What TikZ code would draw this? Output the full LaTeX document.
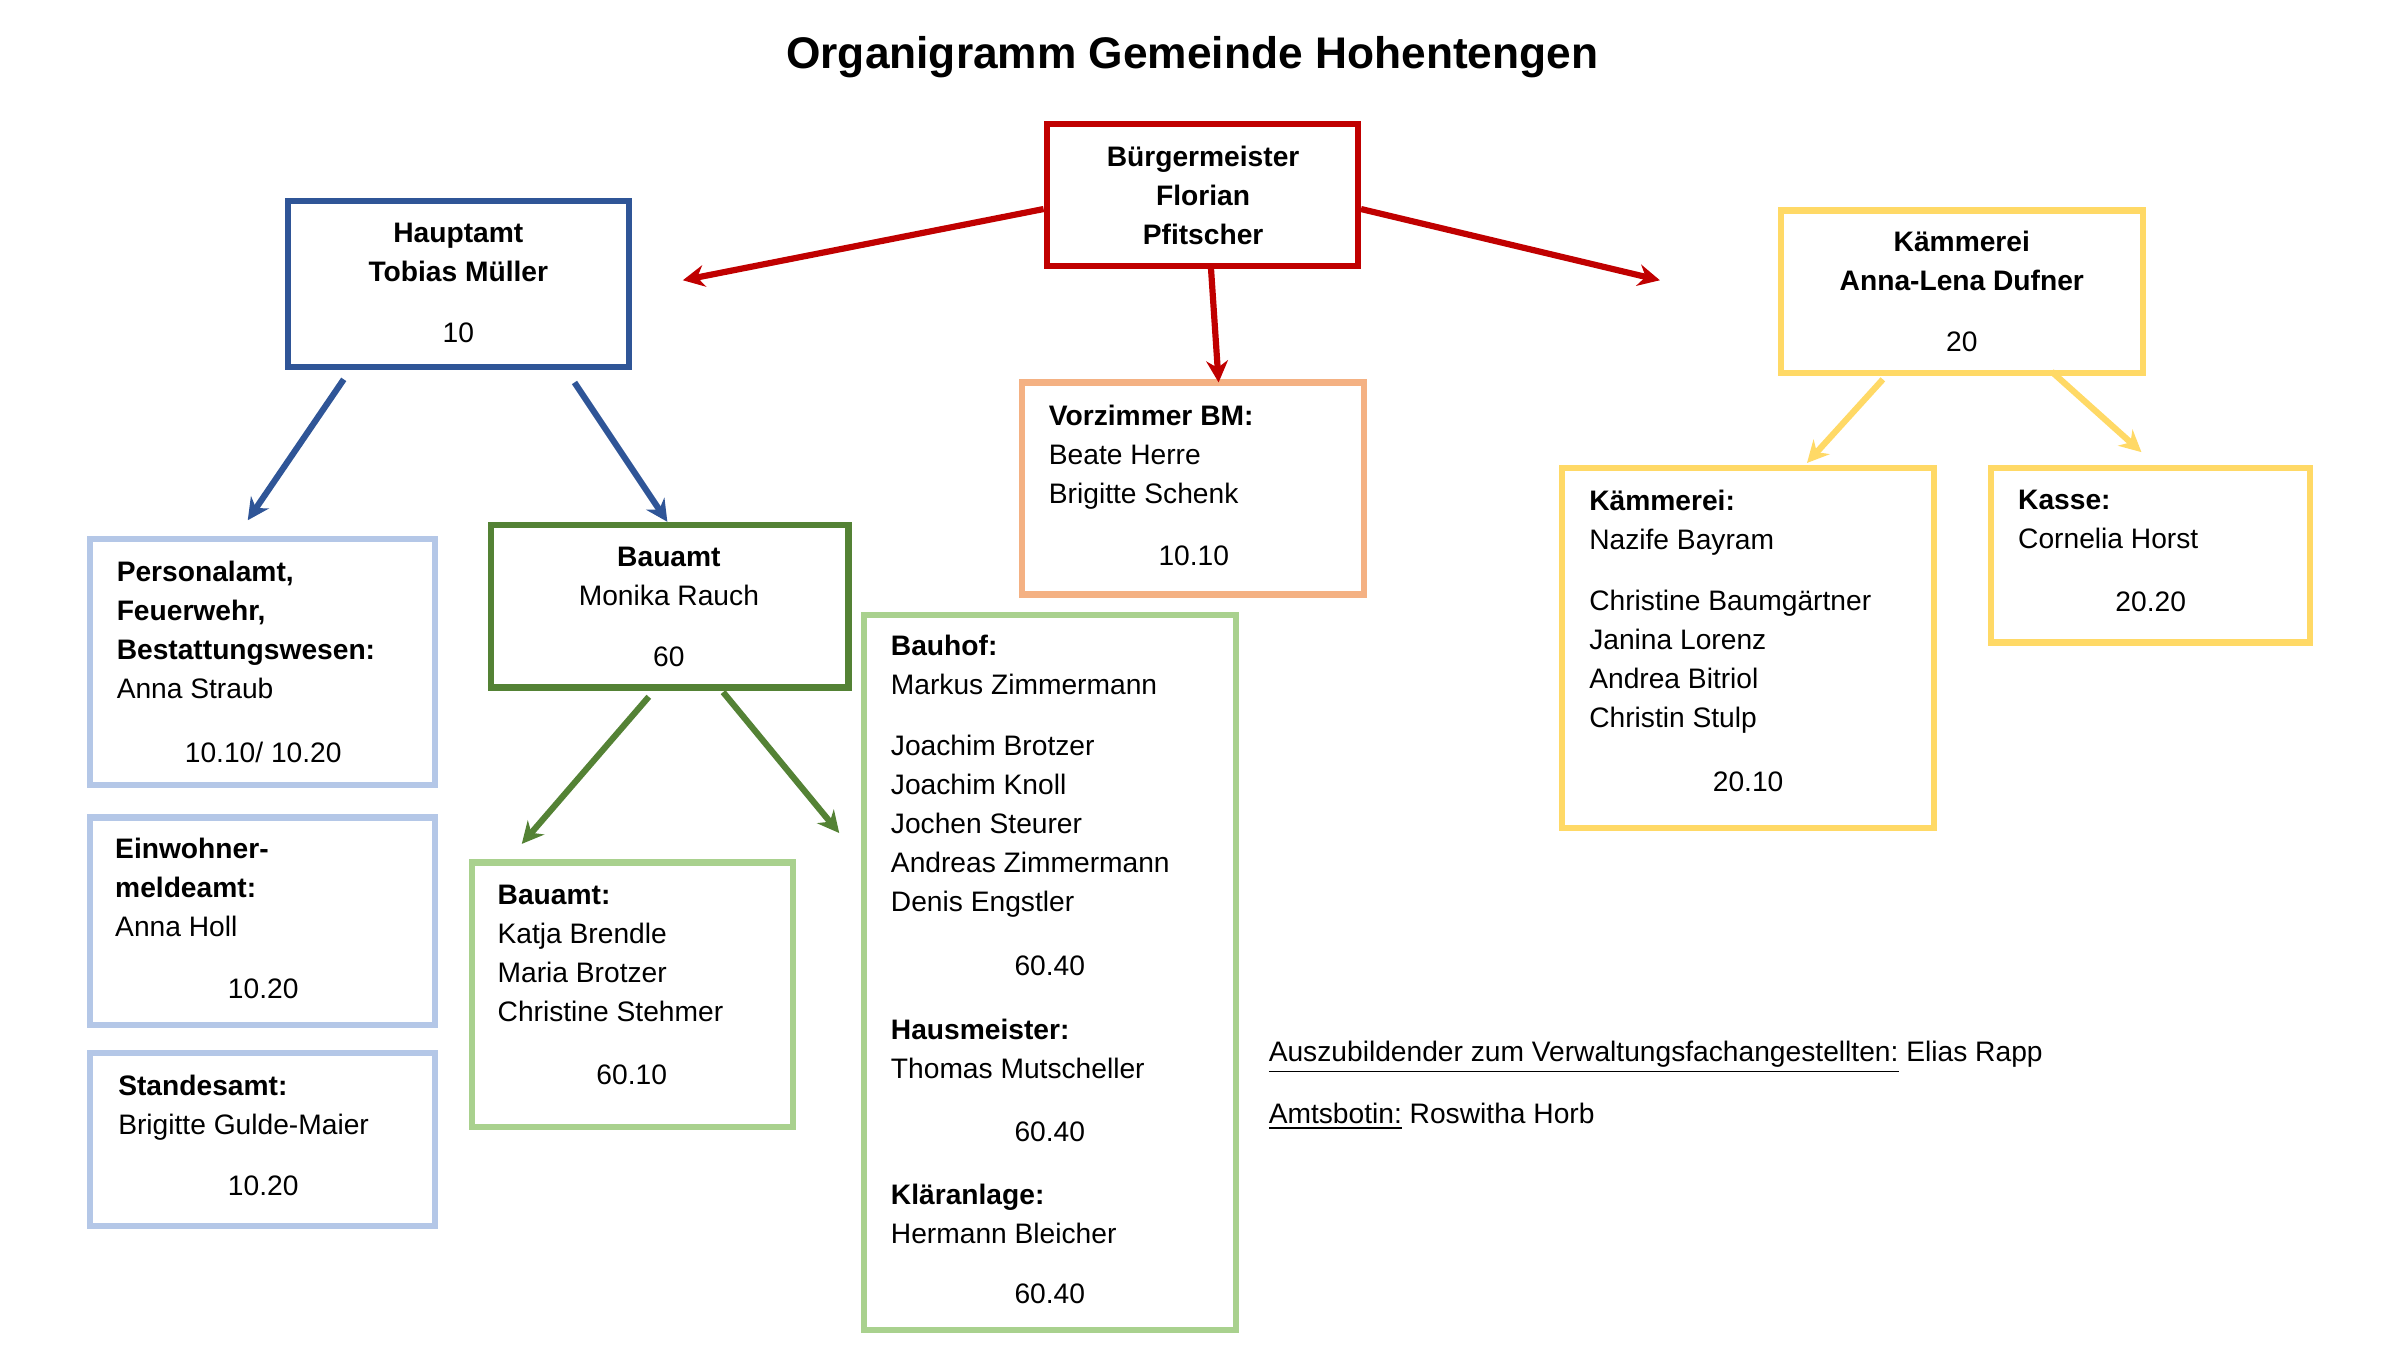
\documentclass[tikz,border=0pt]{standalone}
\usepackage{fontspec}
\setmainfont{Liberation Sans}
\usetikzlibrary{arrows.meta}
\begin{document}
\begin{tikzpicture}[x=0.5pt,y=-0.5pt,
 box/.style={draw,line width=2pt,rectangle,inner sep=0},
 txt/.style={inner sep=0,font=\fontsize{9.1}{12.6}\selectfont,align=left,anchor=north west},
 ctxt/.style={txt,align=center,anchor=north},
 arr/.style={line width=2pt,-{Stealth[length=7pt,width=7pt]}}]
\definecolor{cred}{HTML}{C00000}\definecolor{cblue}{HTML}{2F5597}
\definecolor{cyel}{HTML}{FFD966}\definecolor{cor}{HTML}{F4B183}
\definecolor{clb}{HTML}{B4C7E7}\definecolor{cgr}{HTML}{548235}
\definecolor{clg}{HTML}{A9D18E}
\useasboundingbox (0,0) rectangle (1550,872);
\newcommand\bx[6]{\node[box,draw=#6,minimum width={(#3-#1)*0.5pt},minimum height={(#4-#2)*0.5pt}] (#5) at ({(#1+#3)/2},{(#2+#4)/2}) {};}
\node[font=\bfseries\fontsize{14.3}{16}\selectfont] (title) at (770,37) {Organigramm Gemeinde Hohentengen};
\bx{676}{80}{877}{172}{bm}{cred}
\bx{186}{130}{406}{237}{ha}{cblue}
\bx{1150}{136}{1384}{241}{km}{cyel}
\bx{660}{247}{881}{384}{vz}{cor}
\bx{58}{348}{281}{507}{pa}{clb}
\bx{58}{528}{281}{662}{ew}{clb}
\bx{58}{680}{281}{792}{sa}{clb}
\bx{317}{339}{548}{444}{ba}{cgr}
\bx{305}{557}{512}{728}{bs}{clg}
\bx{558}{397}{798}{859}{bh}{clg}
\bx{1009}{302}{1249}{535}{ks}{cyel}
\bx{1286}{302}{1492}{415}{ka}{cyel}
% texts
\node[ctxt] (t1) at (777,94) {\textbf{Bürgermeister}\\\textbf{Florian}\\\textbf{Pfitscher}};
\node[ctxt] (t2) at (296,144) {\textbf{Hauptamt}\\\textbf{Tobias Müller}\\[7pt]10};
\node[ctxt] (t3) at (1267,149) {\textbf{Kämmerei}\\\textbf{Anna-Lena Dufner}\\[7pt]20};
\node[txt] (t4) at (677,261) {\textbf{Vorzimmer BM:}\\Beate Herre\\Brigitte Schenk};
\node[ctxt] (t4b) at (771,352) {10.10};
\node[txt] (t5) at (75,362) {\textbf{Personalamt,}\\\textbf{Feuerwehr,}\\\textbf{Bestattungswesen:}\\Anna Straub};
\node[ctxt] (t5b) at (170,479) {10.10/ 10.20};
\node[txt] (t6) at (74,541) {\textbf{Einwohner-}\\\textbf{meldeamt:}\\Anna Holl};
\node[ctxt] (t6b) at (170,632) {10.20};
\node[txt] (t7) at (76,694) {\textbf{Standesamt:}\\Brigitte Gulde-Maier};
\node[ctxt] (t7b) at (170,759) {10.20};
\node[ctxt] (t8) at (432,353) {\textbf{Bauamt}\\Monika Rauch\\[7pt]60};
\node[txt] (t9) at (321,571) {\textbf{Bauamt:}\\Katja Brendle\\Maria Brotzer\\Christine Stehmer};
\node[ctxt] (t9b) at (408,687) {60.10};
\node[txt] (t10) at (575,410) {\textbf{Bauhof:}\\Markus Zimmermann\\[7pt]Joachim Brotzer\\Joachim Knoll\\Jochen Steurer\\Andreas Zimmermann\\Denis Engstler};
\node[ctxt] (t10b) at (678,617) {60.40};
\node[txt] (t11) at (575,658) {\textbf{Hausmeister:}\\Thomas Mutscheller};
\node[ctxt] (t11b) at (678,724) {60.40};
\node[txt] (t12) at (575,764) {\textbf{Kläranlage:}\\Hermann Bleicher};
\node[ctxt] (t12b) at (678,829) {60.40};
\node[txt] (t13) at (1026,316) {\textbf{Kämmerei:}\\Nazife Bayram\\[7pt]Christine Baumgärtner\\Janina Lorenz\\Andrea Bitriol\\Christin Stulp};
\node[ctxt] (t13b) at (1129,498) {20.10};
\node[txt] (t14) at (1303,316) {\textbf{Kasse:}\\Cornelia Horst};
\node[ctxt] (t14b) at (1389,382) {20.20};
\node[txt] (t15) at (819,672) {\underline{Auszubildender zum Verwaltungsfachangestellten:} Elias Rapp};
\node[txt] (t16) at (819,712) {\underline{Amtsbotin:} Roswitha Horb};
% arrows
\coordinate (e1) at (441,181); \coordinate (e2) at (1072,181); \coordinate (e3) at (787,247);
\coordinate (e4) at (160,336); \coordinate (e5) at (431,337);
\coordinate (e6) at (337,545); \coordinate (e7) at (542,538);
\coordinate (e8) at (1167,299); \coordinate (e9) at (1383,292);
\coordinate (s4) at (222,245); \coordinate (s5) at (371,247);
\coordinate (s6) at (419,450); \coordinate (s7) at (467,447);
\coordinate (s8) at (1216,245); \coordinate (s9) at (1325,240);
\draw[arr,cred] (bm.west|-0,135) -- (e1);
\draw[arr,cred] (bm.east|-0,135) -- (e2);
\draw[arr,cred] (782,172) -- (e3);
\draw[arr,cblue] (s4) -- (e4);
\draw[arr,cblue] (s5) -- (e5);
\draw[arr,cgr] (s6) -- (e6);
\draw[arr,cgr] (s7) -- (e7);
\draw[arr,cyel] (s8) -- (e8);
\draw[arr,cyel] (s9) -- (e9);
\end{tikzpicture}
\end{document}
